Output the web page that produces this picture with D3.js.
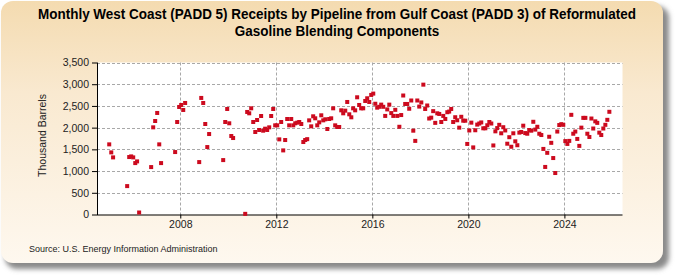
<!DOCTYPE html>
<html><head><meta charset="utf-8">
<script src="https://cdn.jsdelivr.net/npm/d3@7"></script>
<style>html,body{margin:0;padding:0;background:#fff;} svg{display:block;}</style>
</head><body><svg id="chart" width="675" height="275"></svg>
<script>
// ---- data (thousand barrels, monthly; null = no receipt reported) ----
const startYear = 2005;
const v2005 = [1615, 1430, 1315, null, null, null, null, null, null, 654, 1323, 1338];
const v2006 = [1315, 1184, 1223, 46, null, null, null, null, null, 1092, 2007, 2153];
const v2007 = [2338, 1615, 1184, null, null, null, null, null, null, 1438, 2130, 2476];
const v2008 = [2522, 2407, 2568, null, null, null, null, null, null, 1207, 2684, 2568];
const v2009 = [2084, 1553, 1853, null, null, null, null, null, null, 1253, 2130, 2430];
const v2010 = [2100, 1807, 1761, null, null, null, null, null, 15, 2361, 2330, 2445];
const v2011 = [2130, 1900, 2176, 1946, 2268, 1930, 1976, 1946, 2007, 2268, 2430, 2053];
const v2012 = [2053, 1730, 2130, 1476, 1715, 2199, 2053, 2199, 2053, 2100, 2115, 2130];
const v2013 = [2084, 1669, 1715, 1735, 2168, 2030, 2261, 2215, 2053, 2122, 2284, 2168];
const v2014 = [2192, 1969, 2199, 2215, 2445, 2053, 2015, 2015, 2399, 2330, 2391, 2591];
const v2015 = [2307, 2238, 2445, 2399, 2699, 2522, 2445, 2445, 2614, 2676, 2591, 2753];
const v2016 = [2784, 2550, 2460, 2480, 2530, 2480, 2270, 2420, 2530, 2335, 2270, 2410];
const v2017 = [2270, 2020, 2290, 2740, 2545, 2545, 2435, 2625, 1930, 1695, 2625, 2485];
const v2018 = [2580, 2990, 2430, 2510, 2210, 2230, 2380, 2110, 2330, 2315, 2130, 2270];
const v2019 = [2200, 2355, 2370, 2430, 2130, 2240, 2170, 2000, 2250, 2160, 2160, 1625];
const v2020 = [1935, 2115, 1545, 1940, 2070, 2095, 2120, 1985, 1985, 2055, 2130, 2095];
const v2021 = [1590, 1915, 1990, 2065, 1870, 2010, 1935, 1630, 1780, 1560, 1870, 1685];
const v2022 = [1595, 1885, 1900, 2045, 1875, 1860, 1945, 1930, 2135, 1955, 2020, 1860];
const v2023 = [1830, 1510, 1095, 1420, 1790, 1650, 1300, 955, 1910, 2060, 2080, 2065];
const v2024 = [1690, 1625, 1695, 2295, 1860, 1910, 1740, 1580, 2000, 2225, 2225, 1860];
const v2025 = [1785, 2210, 1980, 2145, 2110, 1885, 1830, 1980, 2065, 2180, 2365];
const yearRows = [v2005, v2006, v2007, v2008, v2009, v2010, v2011, v2012, v2013, v2014, v2015,
                  v2016, v2017, v2018, v2019, v2020, v2021, v2022, v2023, v2024, v2025];
const xTickYears = [2008, 2012, 2016, 2020, 2024];
const yTickValues = [0, 500, 1000, 1500, 2000, 2500, 3000, 3500];
const titleLines = ["Monthly West Coast (PADD 5) Receipts by Pipeline from Gulf Coast (PADD 3) of Reformulated",
                    "Gasoline Blending Components"];
const yAxisLabel = "Thousand Barrels";
const sourceText = "Source: U.S. Energy Information Administration";

const data = [];
yearRows.forEach((row, i) => row.forEach((v, m) => {
  if (v != null) data.push({ date: new Date(startYear + i, m, 15), value: v });
}));

const svg = d3.select('#chart');
const defs = svg.append('defs');
const grad = defs.append('linearGradient').attr('id', 'bg').attr('x1', 0).attr('y1', 0).attr('x2', 0).attr('y2', 1);
grad.append('stop').attr('offset', '0%').attr('stop-color', '#F4DBB0');
grad.append('stop').attr('offset', '35%').attr('stop-color', '#F9E9D0');
grad.append('stop').attr('offset', '100%').attr('stop-color', '#FEF8EF');
const blur = defs.append('filter').attr('id', 'sh').attr('x', '-5%').attr('y', '-5%').attr('width', '115%').attr('height', '120%');
blur.append('feGaussianBlur').attr('stdDeviation', 2.5);

// panel shadow + panel
svg.append('rect').attr('x', 5).attr('y', 6).attr('width', 664).attr('height', 263).attr('rx', 12)
  .attr('fill', '#8a8a8a').attr('filter', 'url(#sh)');
svg.append('rect').attr('x', 1).attr('y', 1).attr('width', 662).attr('height', 262).attr('rx', 12)
  .attr('fill', 'url(#bg)');

const L = 97, R = 622.5, T = 62.5, B = 214.5;
const x = d3.scaleTime().domain([new Date(2004, 6, 13), new Date(2026, 5, 3)]).range([L, R]);
const y = d3.scaleLinear().domain([0, 3500]).range([B, T]);

svg.append('rect').attr('x', L).attr('y', T).attr('width', R - L).attr('height', B - T).attr('fill', '#fff');

// grid
const g = svg.append('g');
g.selectAll('line.hg').data(yTickValues.filter(d => d > 0)).join('line')
  .attr('x1', L).attr('x2', R)
  .attr('y1', d => Math.round(y(d)) + 0.5).attr('y2', d => Math.round(y(d)) + 0.5)
  .attr('stroke', '#a8a8a8').attr('stroke-width', 1).attr('stroke-dasharray', '3,2');
g.selectAll('line.vg').data(xTickYears).join('line')
  .attr('x1', d => Math.round(x(new Date(d, 0, 1))) + 0.5).attr('x2', d => Math.round(x(new Date(d, 0, 1))) + 0.5)
  .attr('y1', T).attr('y2', B)
  .attr('stroke', '#a8a8a8').attr('stroke-width', 1).attr('stroke-dasharray', '3,2');

// axes
const fontFam = 'Arial, "Liberation Sans", Helvetica, sans-serif';
const ya = svg.append('g').attr('transform', `translate(${L},0)`)
  .call(d3.axisLeft(y).tickValues(yTickValues).tickFormat(d3.format(',')).tickSize(5).tickPadding(3));
ya.select('.domain').remove();
ya.selectAll('line').attr('stroke', '#000');
ya.selectAll('text').attr('font-family', fontFam).attr('font-size', 10.5).attr('fill', '#222');

const xa = svg.append('g').attr('transform', `translate(0,${B})`)
  .call(d3.axisBottom(x).tickValues(xTickYears.map(d => new Date(d, 0, 1))).tickFormat(d3.timeFormat('%Y')).tickSize(4).tickPadding(2));
xa.select('.domain').remove();
xa.selectAll('line').attr('stroke', '#000');
xa.selectAll('text').attr('font-family', fontFam).attr('font-size', 10.5).attr('fill', '#222');

svg.append('line').attr('x1', L + 0.5).attr('x2', L + 0.5).attr('y1', T).attr('y2', B + 0.5).attr('stroke', '#000');
svg.append('line').attr('x1', L).attr('x2', R).attr('y1', B + 0.5).attr('y2', B + 0.5).attr('stroke', '#000');

// points
svg.append('g').selectAll('rect').data(data).join('rect')
  .attr('x', d => x(d.date) - 2).attr('y', d => y(d.value) - 2)
  .attr('width', 4).attr('height', 4).attr('fill', '#cc0a1e');

// title (condensed to match the narrow bold face of the original)
const titles = svg.append('g').selectAll('text').data(titleLines).join('text')
  .attr('x', 337).attr('y', (d, i) => 19 + i * 17).attr('text-anchor', 'middle')
  .attr('font-family', '"Liberation Sans Narrow", "Arial Narrow", Arial, sans-serif')
  .attr('font-weight', 'bold').attr('font-size', 14).attr('fill', '#000').text(d => d);
const firstLen = titles.nodes()[0].getComputedTextLength();
const squeeze = Math.min(1, 598 / firstLen);
titles.each(function () {
  const len = this.getComputedTextLength();
  d3.select(this).attr('textLength', len * squeeze).attr('lengthAdjust', 'spacingAndGlyphs');
});

// y label
svg.append('text').attr('transform', `translate(46,${(T + B) / 2 - 3}) rotate(-90)`)
  .attr('text-anchor', 'middle').attr('font-family', fontFam).attr('font-size', 10.5).attr('fill', '#222')
  .text(yAxisLabel);

// source
svg.append('text').attr('x', 29).attr('y', 252).attr('font-family', fontFam).attr('font-size', 9)
  .attr('fill', '#222').text(sourceText);
</script></body></html>
